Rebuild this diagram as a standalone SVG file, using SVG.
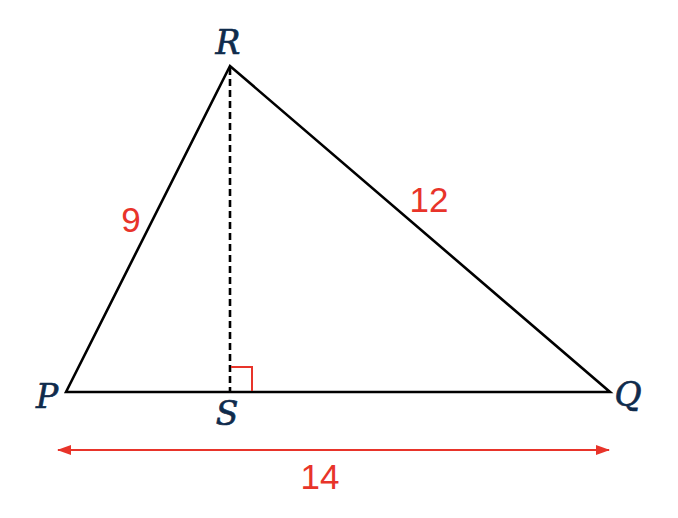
<svg xmlns="http://www.w3.org/2000/svg" width="678" height="518" viewBox="0 0 678 518">
<defs>
<style>
.edge{stroke:#000;stroke-width:2.6;fill:none;stroke-linejoin:miter}
.dash{stroke:#000;stroke-width:2.6;stroke-dasharray:7,4;fill:none}
.red{stroke:#e8342a;stroke-width:2;fill:none}
.vlabel{font-family:"DejaVu Serif",serif;font-style:italic;font-size:33px;fill:#0f2b4c;stroke:#0f2b4c;stroke-width:0.7;text-anchor:middle}
.num{font-family:"Liberation Sans",sans-serif;font-size:35px;fill:#e8342a;text-anchor:middle}
</style>
<marker id="ah" viewBox="0 0 14 10" refX="13" refY="5" markerWidth="14" markerHeight="10" markerUnits="userSpaceOnUse" orient="auto-start-reverse">
<path d="M0,0 L14,5 L0,10 Z" fill="#e8342a"/>
</marker>
</defs>
<rect width="678" height="518" fill="#fff"/>
<g id="connectors">
<path class="edge" d="M66,392 L230,66 L610,392 Z"/>
<line class="dash" x1="230" y1="68" x2="230" y2="391"/>
<path class="red" d="M231,367 L252,367 L252,391"/>
<line class="red" x1="58" y1="450" x2="609" y2="450" marker-start="url(#ah)" marker-end="url(#ah)"/>
</g>
<g id="node-R"><text class="vlabel" x="228" y="54">R</text></g>
<g id="node-P"><text class="vlabel" x="47" y="408">P</text></g>
<g id="node-S"><text class="vlabel" x="227" y="425">S</text></g>
<g id="node-Q"><text class="vlabel" x="628" y="406">Q</text></g>
<g id="label-9"><text class="num" x="131" y="232">9</text></g>
<g id="label-12"><text class="num" x="429" y="212">12</text></g>
<g id="label-14"><text class="num" x="320" y="489">14</text></g>
</svg>
